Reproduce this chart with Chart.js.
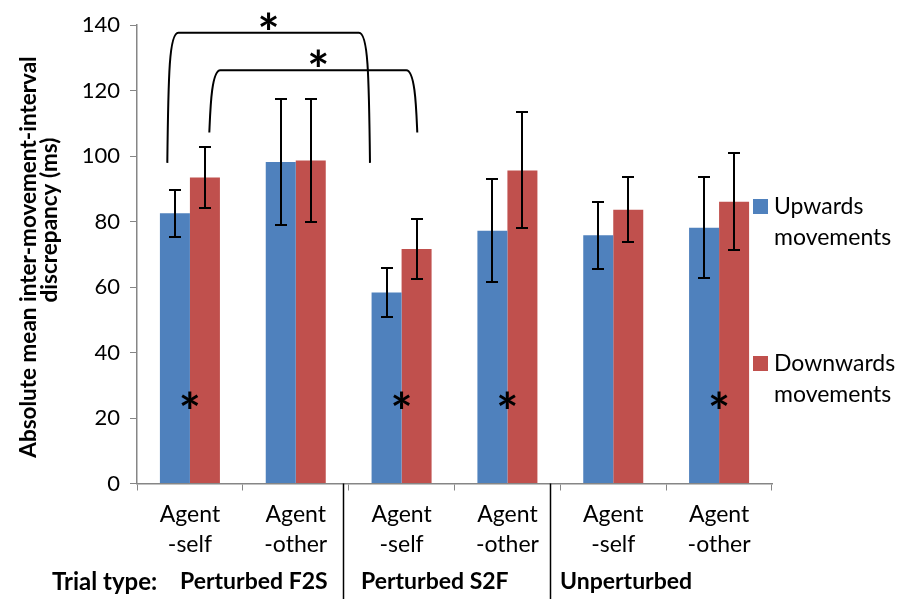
<!DOCTYPE html>
<html>
<head>
<meta charset="utf-8">
<script src="https://cdn.jsdelivr.net/npm/chart.js@4.4.1/dist/chart.umd.min.js"></script>
<style>
  html, body { margin: 0; padding: 0; background: #ffffff; }
  #wrap { width: 897px; height: 599px; position: relative; }
</style>
</head>
<body>
<div id="wrap"><canvas id="c" width="897" height="599"></canvas></div>
<script>
// ---- data ----
const categories = [["Agent", "-self"], ["Agent", "-other"], ["Agent", "-self"], ["Agent", "-other"], ["Agent", "-self"], ["Agent", "-other"]];
const upwardsValues = [82.5, 98.2, 58.3, 77.2, 75.8, 78.1];
const upwardsErrors = [7.2, 19.2, 7.4, 15.8, 10.2, 15.4];
const downwardsValues = [93.4, 98.6, 71.6, 95.6, 83.6, 86.0];
const downwardsErrors = [9.3, 18.8, 9.3, 17.7, 10.0, 14.8];
const seriesNames = ["Upwards movements", "Downwards movements"];
const yTicks = [0, 20, 40, 60, 80, 100, 120, 140];
const trialTypeLabel = "Trial type:";
const groupLabels = ["Perturbed F2S", "Perturbed S2F", "Unperturbed"];
const withinBarStars = [0, 2, 3, 5];      // categories with an asterisk inside the bars
const starValue = 25.5;                    // value level of those asterisks
// brackets: [fromCategory, toCategory, datasetIndex, bottomValue, topValue]
const brackets = [[0, 2, 0, 97.9, 137.6], [0, 2, 1, 107.2, 126.2]];
const yTitle = ["Absolute mean inter-movement-interval", "discrepancy (ms)"];

// ---- styling / annotation layout ----
const FONT = "Lato, 'Open Sans', sans-serif";
const blue = "#4F81BD", red = "#C0504D";
const bracketOffsets = [[-7.6, -16.6], [4.4, 0.7]];
const separatorPos = [1.447, 3.405];       // in category units
const groupLabelX = [180, 361, 560];

const annot = {
  id: "annot",
  afterDatasetsDraw(chart) {
    const ctx = chart.ctx, ys = chart.scales.y;
    const errs = [upwardsErrors, downwardsErrors];
    ctx.save();
    ctx.strokeStyle = "#000";
    ctx.lineWidth = 2;
    chart.data.datasets.forEach((ds, di) => {
      const meta = chart.getDatasetMeta(di);
      meta.data.forEach((bar, i) => {
        const v = ds.data[i], e = errs[di][i];
        const yt = Math.round(ys.getPixelForValue(v + e)), yb = Math.round(ys.getPixelForValue(v - e));
        const x = Math.round(bar.x);
        ctx.beginPath();
        ctx.moveTo(x, yt); ctx.lineTo(x, yb);
        ctx.moveTo(x - 6, yt); ctx.lineTo(x + 6, yt);
        ctx.moveTo(x - 6, yb); ctx.lineTo(x + 6, yb);
        ctx.stroke();
      });
    });
    ctx.restore();
  },
  afterDraw(chart) {
    const ctx = chart.ctx, ys = chart.scales.y, xs = chart.scales.x;
    const area = chart.chartArea;
    const catW = xs.getPixelForValue(1) - xs.getPixelForValue(0);

    function star(x, y) {
      ctx.save();
      ctx.font = "bold 52px " + FONT;
      ctx.fillStyle = "#000";
      ctx.textAlign = "center";
      ctx.textBaseline = "alphabetic";
      const m = ctx.measureText("*");
      ctx.fillText("*", x, y + m.actualBoundingBoxAscent - (m.actualBoundingBoxAscent + m.actualBoundingBoxDescent) / 2);
      ctx.restore();
    }

    // asterisks inside bars
    withinBarStars.forEach(ci => star(xs.getPixelForValue(ci), ys.getPixelForValue(starValue)));

    // brackets
    ctx.save();
    ctx.strokeStyle = "#000";
    ctx.lineWidth = 2;
    brackets.forEach((b, k) => {
      const [c1, c2, di, vb, vt] = b;
      const meta = chart.getDatasetMeta(di);
      const x1 = meta.data[c1].x + bracketOffsets[k][0];
      const x2 = meta.data[c2].x + bracketOffsets[k][1];
      const yb = ys.getPixelForValue(vb), yt = ys.getPixelForValue(vt);
      ctx.beginPath();
      ctx.moveTo(x1, yb);
      ctx.bezierCurveTo(x1 + 1, yt + 40, x1 + 2, yt, x1 + 11, yt);
      ctx.lineTo(x2 - 11, yt);
      ctx.bezierCurveTo(x2 - 2, yt, x2 - 1, yt + 40, x2, yb);
      ctx.stroke();
      star((x1 + x2) / 2 + (k === 1 ? 5 : 0), yt - 12);
    });
    ctx.restore();

    // separators
    ctx.save();
    ctx.strokeStyle = "#000";
    ctx.lineWidth = 1.5;
    separatorPos.forEach(p => {
      const x = Math.round(xs.getPixelForValue(0) + p * catW) + 0.5;
      ctx.beginPath();
      ctx.moveTo(x, area.bottom);
      ctx.lineTo(x, chart.height);
      ctx.stroke();
    });
    ctx.restore();

    // group labels
    ctx.save();
    ctx.fillStyle = "#000";
    ctx.textBaseline = "middle";
    ctx.textAlign = "left";
    ctx.font = "bold 24px " + FONT;
    ctx.fillText(trialTypeLabel, 52, 582);
    ctx.font = "bold 23px " + FONT;
    groupLabels.forEach((g, i) => ctx.fillText(g, groupLabelX[i], 582));
    ctx.restore();

    // legend
    ctx.save();
    ctx.font = "23px " + FONT;
    ctx.fillStyle = "#000";
    ctx.textBaseline = "middle";
    const legTop = [199, 356];
    chart.data.datasets.forEach((ds, i) => {
      ctx.fillStyle = ds.backgroundColor;
      ctx.fillRect(753, legTop[i], 15, 15);
      ctx.fillStyle = "#000";
      const words = ds.label.split(" ");
      ctx.fillText(words[0], 774, legTop[i] + 8);
      ctx.fillText(words[1], 774, legTop[i] + 39);
    });
    ctx.restore();

    // y title
    ctx.save();
    ctx.font = "bold 22.5px " + FONT;
    ctx.fillStyle = "#000";
    ctx.textAlign = "center";
    ctx.textBaseline = "middle";
    ctx.translate(29, 257);
    ctx.rotate(-Math.PI / 2);
    ctx.fillText(yTitle[0], 0, 0);
    ctx.fillText(yTitle[1], 37, 21);
    ctx.restore();
  }
};

new Chart(document.getElementById("c"), {
  type: "bar",
  data: {
    labels: categories,
    datasets: [
      { label: seriesNames[0], data: upwardsValues, backgroundColor: blue, borderWidth: 0,
        categoryPercentage: 0.567, barPercentage: 1.0 },
      { label: seriesNames[1], data: downwardsValues, backgroundColor: red, borderWidth: 0,
        categoryPercentage: 0.567, barPercentage: 1.0 }
    ]
  },
  options: {
    responsive: false,
    animation: false,
    devicePixelRatio: 1,
    layout: { padding: { left: 0, right: 125, top: 25, bottom: 0 } },
    plugins: { legend: { display: false }, tooltip: { enabled: false } },
    scales: {
      x: {
        grid: { offset: true, drawOnChartArea: false, drawTicks: true, tickLength: 7, color: "#868686" },
        border: { display: true, color: "#868686", width: 1.5 },
        ticks: { font: { family: FONT, size: 23, lineHeight: 1.3 }, color: "#000", padding: 9, maxRotation: 0 },
        afterFit(scale) { scale.height = 115.5; }
      },
      y: {
        min: 0, max: 140,
        afterBuildTicks(scale) { scale.ticks = yTicks.map(v => ({ value: v })); },
        grid: { drawOnChartArea: false, drawTicks: true, tickLength: 7, color: "#868686" },
        border: { display: true, color: "#868686", width: 1.5 },
        ticks: { font: { family: FONT, size: 22 }, color: "#000", padding: 10 },
        afterFit(scale) { scale.width = 137; }
      }
    }
  },
  plugins: [annot]
});
</script>
</body>
</html>
